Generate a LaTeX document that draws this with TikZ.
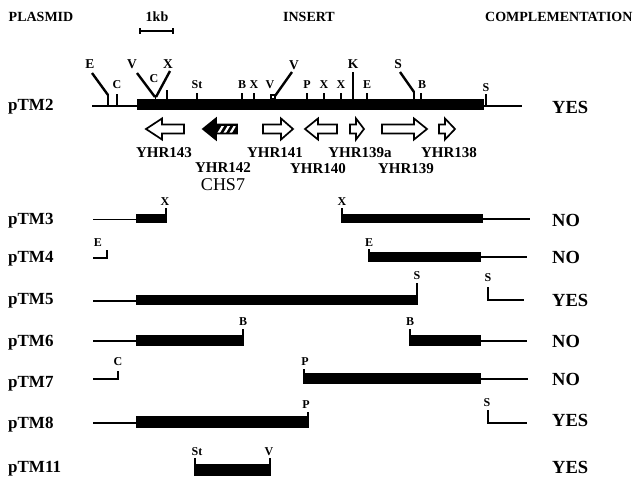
\documentclass[tikz,border=0pt]{standalone}
\usepackage{fontspec}
\setmainfont{Liberation Serif}
\begin{document}
\begin{tikzpicture}[x=1pt,y=-1pt,
  hdr/.style={font=\fontsize{14}{16}\selectfont\bfseries, inner sep=0pt},
  plab/.style={font=\fontsize{17}{19}\selectfont\bfseries, anchor=base west, inner sep=0pt},
  verdict/.style={font=\fontsize{18.5}{20}\selectfont\bfseries, anchor=base west, inner sep=0pt},
  site/.style={font=\fontsize{12}{13}\selectfont\bfseries, inner sep=0pt},
  bigsite/.style={font=\fontsize{13.5}{15}\selectfont\bfseries, inner sep=0pt},
  glab/.style={font=\fontsize{15}{17}\selectfont\bfseries, inner sep=0pt},
  thin/.style={line width=1.1pt},
  tick/.style={line width=1.4pt},
  slant/.style={line width=2.4pt},
  seg/.style={fill=black},
  gene/.style={draw=black, line width=1.7pt, fill=white, line join=miter},
]
\useasboundingbox (0,0) rectangle (639,480);

% column headings and scale bar
\node[hdr] (hplasmid) at (41,17) {PLASMID};
\node[hdr] (hkb) at (157,17) {1kb};
\draw[line width=1.4pt] (140,31) -- (173,31);
\draw[line width=1.2pt] (140,28) -- (140,34) (173,28) -- (173,34);
\node[hdr] (hinsert) at (309,17) {INSERT};
\node[hdr, anchor=west] (hcomp) at (485,17) {COMPLEMENTATION};

% plasmid names
\node[plab] (n2)  at (8,110) {pTM2};
\node[plab] (n3)  at (8,224) {pTM3};
\node[plab] (n4)  at (8,262) {pTM4};
\node[plab] (n5)  at (8,304) {pTM5};
\node[plab] (n6)  at (8,346) {pTM6};
\node[plab] (n7)  at (8,387) {pTM7};
\node[plab] (n8)  at (8,428) {pTM8};
\node[plab] (n11) at (8,472) {pTM11};

% complementation results
\node[verdict] (c2)  at (552,113) {YES};
\node[verdict] (c3)  at (552,226) {NO};
\node[verdict] (c4)  at (552,263) {NO};
\node[verdict] (c5)  at (552,306) {YES};
\node[verdict] (c6)  at (552,347) {NO};
\node[verdict] (c7)  at (552,385) {NO};
\node[verdict] (c8)  at (552,426) {YES};
\node[verdict] (c11) at (552,473) {YES};

% ---- pTM2: full insert with restriction map ----
\draw[thin] (92,106) -- (137,106);
\draw[thin] (484,106) -- (522,106);
\fill[seg] (137,99) rectangle (484,110);

\node[bigsite] (sE1) at (90,64) {E};
\draw[slant] (92,73) -- (108,95);
\draw[tick] (108,94) -- (108,106);
\node[site] (sC1) at (117,85) {C};
\draw[tick] (117,94) -- (117,106);
\node[bigsite] (sV1) at (132,64) {V};
\draw[slant] (137,73) -- (155,97);
\node[bigsite] (sX1) at (168,64) {X};
\draw[slant] (170,71) -- (156,97);
\node[site] (sC2) at (154,79) {C};
\draw[tick] (155.5,95) -- (155.5,99);
\draw[tick] (167,90) -- (167,99);
\node[site] (sSt) at (197,85) {St};
\draw[tick] (197,93) -- (197,99);
\node[site] (sB1) at (242,85) {B};
\draw[tick] (242,93) -- (242,99);
\node[site] (sX2) at (254,85) {X};
\draw[tick] (254,93) -- (254,99);
\node[site] (sV2) at (270,85) {V};
\draw[line width=1.2pt] (271,95) rectangle (275,99);
\node[bigsite] (sV3) at (294,65) {V};
\draw[slant] (292,72) -- (275,96);
\node[site] (sP) at (307,85) {P};
\draw[tick] (307,93) -- (307,99);
\node[site] (sX3) at (324,85) {X};
\draw[tick] (324,93) -- (324,99);
\node[site] (sX4) at (341,85) {X};
\draw[tick] (341,93) -- (341,99);
\node[bigsite] (sK) at (353,64) {K};
\draw[tick] (353,72) -- (353,99);
\node[site] (sE2) at (367,85) {E};
\draw[tick] (367,93) -- (367,99);
\node[bigsite] (sS1) at (398,64) {S};
\draw[slant] (400,72) -- (414,92);
\draw[tick] (414,91) -- (414,99);
\node[site] (sB2) at (422,85) {B};
\draw[tick] (421,93) -- (421,99);
\node[site] (sS2) at (486,88) {S};
\draw[tick] (486,94) -- (486,106);

% open reading frames
\newcommand\orfarrow[4]{%
  \draw[gene] (#1,#4-4.5) -- (#2,#4-4.5) -- (#2,#4-10.5) -- (#3,#4)
    -- (#2,#4+10.5) -- (#2,#4+4.5) -- (#1,#4+4.5) -- cycle;}
\orfarrow{184}{162}{146}{129}
\orfarrow{263}{281}{293}{129}
\orfarrow{337}{318}{305}{129}
\orfarrow{350}{356}{364}{129}
\orfarrow{382}{414}{427}{129}
\orfarrow{439}{445}{455}{129}
% CHS7: solid head, striped body
\fill (237,124.5) -- (216,124.5) -- (216,118.5) -- (203,129) -- (216,139.5)
  -- (216,133.5) -- (237,133.5) -- cycle;
\begin{scope}
  \clip (217,126) rectangle (235.5,132);
  \draw[white, line width=2.2pt] (218,134) -- (224,124) (224,134) -- (230,124) (230,134) -- (236,124);
\end{scope}
\draw[line width=1.7pt] (237,124.5) -- (216,124.5) -- (216,118.5) -- (203,129) -- (216,139.5)
  -- (216,133.5) -- (237,133.5) -- cycle;

\node[glab] (g143) at (164,153) {YHR143};
\node[glab] (g141) at (275,153) {YHR141};
\node[glab] (g139a) at (360,153) {YHR139a};
\node[glab] (g138) at (449,153) {YHR138};
\node[glab] (g142) at (223,168) {YHR142};
\node[glab] (g140) at (318,169) {YHR140};
\node[glab] (g139) at (406,169) {YHR139};
\node[font=\fontsize{18}{20}\selectfont, inner sep=0pt] (gchs) at (223,185) {CHS7};

% ---- pTM3 ----
\draw[thin] (93,219.5) -- (136,219.5);
\fill[seg] (136,214) rectangle (166,223);
\draw[tick] (166,208) -- (166,223);
\node[site] (t3a) at (165,202) {X};
\draw[tick] (342,208) -- (342,223);
\fill[seg] (342,214) rectangle (483,223);
\draw[thin] (483,219) -- (530,219);
\node[site] (t3b) at (342,202) {X};

% ---- pTM4 ----
\node[site] (t4a) at (98,243) {E};
\draw[tick] (93,258) -- (107,258) -- (107,250);
\node[site] (t4b) at (369,243) {E};
\draw[tick] (369,249) -- (369,262);
\fill[seg] (369,252) rectangle (481,262);
\draw[thin] (481,257) -- (527,257);

% ---- pTM5 ----
\draw[thin] (93,301) -- (136,301);
\fill[seg] (136,295) rectangle (417,305);
\draw[tick] (417,283) -- (417,305);
\node[site] (t5a) at (417,276) {S};
\node[site] (t5b) at (488,278) {S};
\draw[tick] (488,287) -- (488,300) -- (524,300);

% ---- pTM6 ----
\draw[thin] (93,341) -- (136,341);
\fill[seg] (136,335) rectangle (243,346);
\draw[tick] (243,329) -- (243,346);
\node[site] (t6a) at (243,322) {B};
\node[site] (t6b) at (410,322) {B};
\draw[tick] (410,329) -- (410,346);
\fill[seg] (410,335) rectangle (481,346);
\draw[thin] (481,341) -- (527,341);

% ---- pTM7 ----
\node[site] (t7a) at (118,362) {C};
\draw[tick] (93,379) -- (118,379) -- (118,371);
\node[site] (t7b) at (305,362) {P};
\draw[tick] (304,369) -- (304,384);
\fill[seg] (304,373) rectangle (481,384);
\draw[thin] (481,379) -- (528,379);

% ---- pTM8 ----
\draw[thin] (93,423) -- (136,423);
\fill[seg] (136,416) rectangle (308,428);
\draw[tick] (308,412) -- (308,428);
\node[site] (t8a) at (306,405) {P};
\node[site] (t8b) at (487,403) {S};
\draw[tick] (488,410) -- (488,423) -- (527,423);

% ---- pTM11 ----
\node[site] (t11a) at (197,452) {St};
\node[site] (t11b) at (269,452) {V};
\fill[seg] (195,464) rectangle (270,476);
\draw[tick] (195,458) -- (195,476);
\draw[tick] (270,458) -- (270,476);
\end{tikzpicture}
\end{document}
